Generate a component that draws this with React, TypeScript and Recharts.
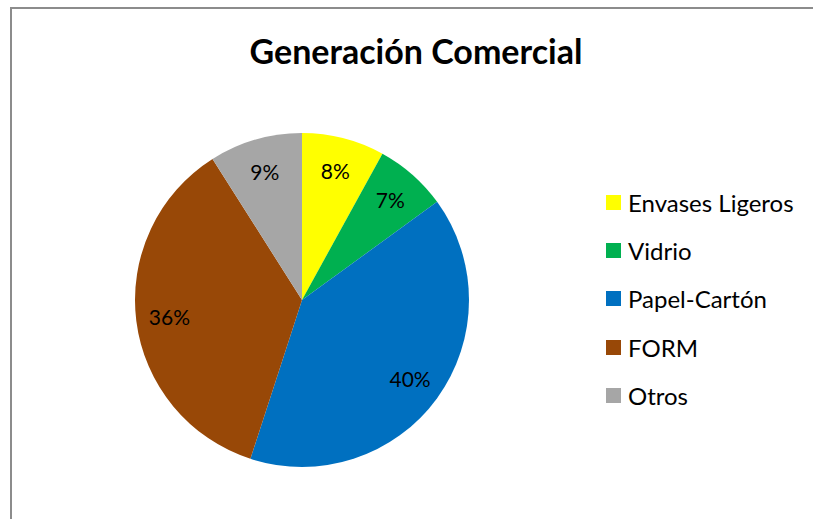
import { PieChart, Pie, Cell } from 'recharts';

const categories = ['Envases Ligeros', 'Vidrio', 'Papel-Cartón', 'FORM', 'Otros'];
const shares = [8, 7, 40, 36, 9];
const colors = ['#FFFF00', '#00B050', '#0070C0', '#984807', '#A6A6A6'];

const data = categories.map((name, i) => ({ name, value: shares[i] }));

const FONT = 'Lato, "Open Sans", sans-serif';
const RAD = Math.PI / 180;

const renderLabel = (props: any) => {
  const { cx, cy, midAngle, outerRadius, value } = props;
  const r = outerRadius * 0.8;
  const x = cx + r * Math.cos(-midAngle * RAD);
  const y = cy + r * Math.sin(-midAngle * RAD);
  return (
    <text x={x} y={y} fill="#000" fontSize={21} fontFamily={FONT} textAnchor="middle" dominantBaseline="central">
      {`${value}%`}
    </text>
  );
};

export default function App() {
  return (
    <div style={{ position: 'absolute', left: 0, top: 0, width: 813, height: 519, background: '#fff', overflow: 'hidden' }}>
      <div
        style={{
          position: 'absolute',
          left: 10,
          top: 7,
          width: 900,
          height: 600,
          borderLeft: '2px solid #8c8c8c',
          borderTop: '2px solid #8c8c8c',
        }}
      />
      <div
        style={{
          position: 'absolute',
          left: 0,
          width: 832,
          top: 30,
          textAlign: 'center',
          fontFamily: FONT,
          fontWeight: 'bold',
          fontSize: 34,
          color: '#000',
        }}
      >
        Generación Comercial
      </div>
      <div style={{ position: 'absolute', left: 0, top: 0 }}>
        <PieChart width={813} height={519} margin={{ top: 0, right: 0, bottom: 0, left: 0 }}>
          <Pie
            data={data}
            dataKey="value"
            nameKey="name"
            cx={302}
            cy={300}
            outerRadius={167}
            startAngle={90}
            endAngle={-270}
            stroke="none"
            label={renderLabel}
            labelLine={false}
            isAnimationActive={false}
          >
            {data.map((d, i) => (
              <Cell key={d.name} fill={colors[i]} />
            ))}
          </Pie>
        </PieChart>
      </div>
      <div style={{ position: 'absolute', left: 606, top: 178, fontFamily: FONT, fontSize: 24, color: '#000' }}>
        {categories.map((name, i) => (
          <div key={name} style={{ display: 'flex', alignItems: 'center', height: 48.3 }}>
            <span style={{ width: 15, height: 15, background: colors[i], marginRight: 7, display: 'inline-block' }} />
            <span>{name}</span>
          </div>
        ))}
      </div>
    </div>
  );
}
